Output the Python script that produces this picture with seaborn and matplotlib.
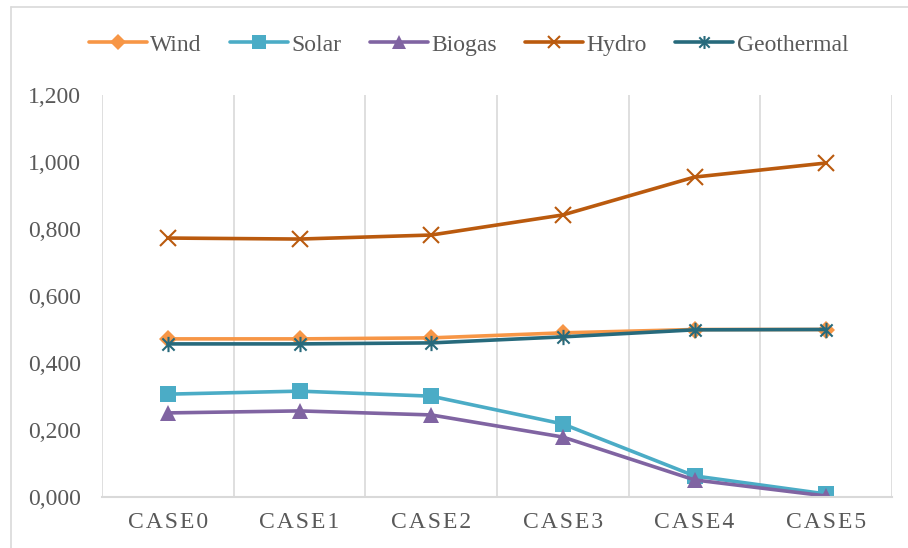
import matplotlib
matplotlib.use("Agg")
import matplotlib.pyplot as plt
from matplotlib.path import Path
from matplotlib.ticker import FuncFormatter, FixedLocator
from matplotlib.lines import Line2D
import seaborn as sns
import pandas as pd

cases = ["CASE0", "CASE1", "CASE2", "CASE3", "CASE4", "CASE5"]
wind = [0.472, 0.472, 0.475, 0.490, 0.500, 0.500]
solar = [0.307, 0.316, 0.301, 0.218, 0.063, 0.009]
biogas = [0.251, 0.257, 0.245, 0.179, 0.051, 0.003]
hydro = [0.773, 0.770, 0.782, 0.842, 0.955, 0.997]
geothermal = [0.457, 0.457, 0.460, 0.478, 0.499, 0.500]

series_names = ["Wind", "Solar", "Biogas", "Hydro", "Geothermal"]
series_values = [wind, solar, biogas, hydro, geothermal]
colors = ["#F79646", "#4BACC6", "#8064A2", "#BA5A0E", "#276A7C"]

# asterisk marker: an X crossed by a vertical stroke
star_path = Path(
    [(-1, -1), (1, 1), (-1, 1), (1, -1), (0, -1.25), (0, 1.25)],
    [Path.MOVETO, Path.LINETO, Path.MOVETO, Path.LINETO, Path.MOVETO, Path.LINETO],
)
markers = ["D", "s", "^", "x", star_path]
msizes = [9, 12, 12, 11, 11]
mews = [0, 0, 0, 1.5, 1.5]

sns.set_theme(style="white")
plt.rcParams["font.family"] = ["Liberation Serif", "DejaVu Serif"]
text_color = "#595959"
grid_color = "#D9D9D9"
fs = 17

fig = plt.figure(figsize=(9.08, 5.48), dpi=100)
ax = fig.add_axes([102 / 908, 1 - 497 / 548, (892 - 102) / 908, (497 - 95) / 548])

rows = []
for name, vals in zip(series_names, series_values):
    for c, v in zip(cases, vals):
        rows.append({"case": c, "series": name, "value": v})
df = pd.DataFrame(rows)

handles = []
for name, col, mk, ms, mew in zip(series_names, colors, markers, msizes, mews):
    sub = df[df["series"] == name]
    sns.lineplot(
        data=sub, x="case", y="value", ax=ax, color=col, linewidth=2.6,
        marker=mk, markersize=ms, markeredgewidth=mew,
        markeredgecolor=col, markerfacecolor=col, sort=False, legend=False,
    )
    handles.append(Line2D([0], [0], color=col, linewidth=2.6, marker=mk,
                          markersize=ms * 0.85, markeredgewidth=mew,
                          markeredgecolor=col, markerfacecolor=col))

ax.set_xlim(-0.5, 5.5)
ax.set_ylim(0, 1.2)
ax.set_xlabel("")
ax.set_ylabel("")

# vertical gridlines between categories
ax.xaxis.set_minor_locator(FixedLocator([i + 0.5 for i in range(-1, 6)]))
ax.grid(False)
ax.grid(True, which="minor", axis="x", color=grid_color, linewidth=1.2)

ax.yaxis.set_major_locator(FixedLocator([0, 0.2, 0.4, 0.6, 0.8, 1.0, 1.2]))
ax.yaxis.set_major_formatter(FuncFormatter(lambda v, p: f"{v:.3f}".replace(".", ",")))
ax.set_xticks(range(len(cases)))
ax.set_xticklabels(["\u200a".join(c) for c in cases])

ax.tick_params(axis="y", length=0, pad=15, labelsize=fs, labelcolor=text_color)
ax.tick_params(axis="x", which="both", length=0, pad=11, labelsize=fs, labelcolor=text_color)

for s in ["top", "right", "left"]:
    ax.spines[s].set_visible(False)
ax.spines["bottom"].set_color(grid_color)
ax.spines["bottom"].set_linewidth(1.5)

fig.legend(handles, series_names, loc="center", bbox_to_anchor=(0.516, 1 - 45 / 548),
           ncol=5, frameon=False, fontsize=fs, handlelength=2.45, handletextpad=0.15,
           columnspacing=1.2, labelcolor=text_color)

# chart area border
fig.add_artist(Line2D([11 / 908, 11 / 908], [0, 1 - 7 / 548], color=grid_color,
                      linewidth=1.2, transform=fig.transFigure))
fig.add_artist(Line2D([11 / 908, 1], [1 - 7 / 548, 1 - 7 / 548], color=grid_color,
                      linewidth=1.2, transform=fig.transFigure))

fig.savefig("out.png", dpi=100)
